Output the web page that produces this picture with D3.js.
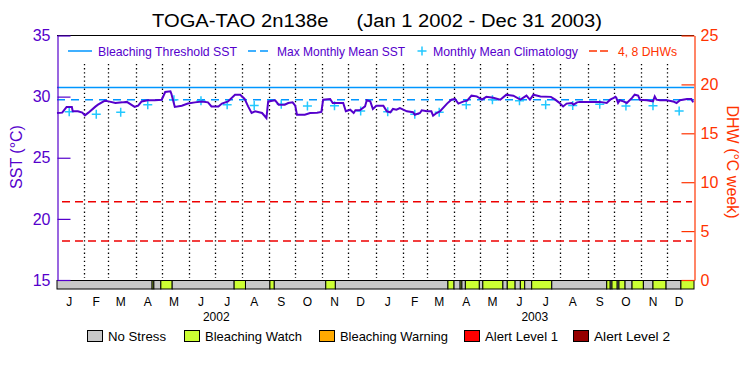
<!DOCTYPE html>
<html>
<head>
<meta charset="utf-8">
<script src="https://cdn.jsdelivr.net/npm/d3@7"></script>
<style>
  body { margin: 0; background: #fff; }
  text { font-family: "Liberation Sans", Arial, sans-serif; }
</style>
</head>
<body>
<svg id="chart" width="750" height="375"></svg>
<script>
// SST 与 DHW 双轴图：2002–2003 两年，底部为热胁迫等级条

const startDate = new Date(2002, 0, 1);
const endDate = new Date(2004, 0, 1);

// 日均 SST（距 2002-01-01 的天数，℃）
const sstDay = [
  0, 6, 11, 17, 18, 24, 29, 32, 36, 44, 47, 55, 59, 67, 75, 80, 89, 93, 97, 104,
  112, 120, 124, 130, 131, 135, 143, 150, 158, 166, 173, 177, 185, 189, 196, 204, 210, 215, 219, 223,
  227, 235, 240, 242, 250, 254, 261, 265, 270, 273, 275, 284, 290, 298, 303, 305, 313, 316, 328, 331,
  336, 340, 342, 347, 353, 355, 359, 362, 366, 374, 378, 382, 385, 389, 393, 401, 408, 410, 416, 418,
  424, 429, 431, 435, 439, 447, 452, 456, 460, 466, 470, 475, 481, 487, 492, 500, 508, 515, 523, 531,
  538, 542, 546, 554, 566, 571, 575, 580, 584, 590, 592, 596, 599, 622, 630, 634, 638, 640, 641, 643,
  645, 649, 653, 659, 662, 666, 668, 676, 683, 685, 687, 691, 699, 706, 710, 714, 722, 727, 729,
];
const sstValue = [
  28.66, 28.69, 29.16, 29.16, 28.80, 28.80, 28.69, 28.47, 28.69, 29.18, 29.34, 29.67, 29.61, 29.48, 29.53, 29.57, 29.16, 29.26, 29.61, 29.70,
  29.70, 29.75, 30.38, 30.43, 30.25, 29.16, 29.26, 29.43, 29.53, 29.61, 29.53, 29.20, 29.20, 29.43, 29.61, 30.16, 30.16, 29.81, 29.20, 28.66,
  28.80, 28.66, 28.25, 29.61, 29.70, 29.34, 29.34, 29.48, 29.53, 29.26, 28.52, 28.52, 28.66, 28.69, 28.75, 29.75, 29.81, 29.48, 29.48, 28.80,
  28.93, 28.66, 28.88, 28.88, 29.20, 29.70, 29.61, 28.99, 29.26, 29.26, 28.80, 28.72, 28.99, 28.93, 29.07, 28.80, 28.72, 28.52, 28.66, 28.88,
  28.80, 28.80, 28.44, 28.66, 28.80, 29.43, 29.75, 29.81, 29.43, 29.61, 29.67, 30.08, 30.02, 29.75, 29.98, 29.90, 29.75, 30.16, 30.08, 29.75,
  30.08, 29.75, 30.16, 30.02, 29.98, 29.75, 29.53, 29.20, 29.43, 29.48, 29.34, 29.53, 29.57, 29.57, 29.48, 29.75, 29.90, 29.98, 29.90, 29.48,
  29.70, 29.61, 29.48, 29.90, 30.16, 30.08, 29.75, 29.70, 29.61, 30.02, 29.75, 29.70, 29.70, 29.61, 29.48, 29.70, 29.81, 29.81, 29.53,
];

// 月平均气候态（1–12 月）
const climMonths = ['J', 'F', 'M', 'A', 'M', 'J', 'J', 'A', 'S', 'O', 'N', 'D'];
const climValue = [28.77, 28.56, 28.73, 29.34, 29.75, 29.67, 29.34, 29.28, 29.37, 29.24, 29.26, 28.83];

const mmm = 29.75;
const threshold = 30.75;
const dhwLines = [4, 8];

// 热胁迫等级条：起止天数与等级（0 无胁迫，1 白化观察）
const stressStart = [0, 109, 111, 119, 132, 203, 216, 244, 249, 308, 319, 448, 455, 462, 464, 468, 484, 488,
  511, 516, 525, 531, 536, 544, 567, 630, 634, 636, 642, 644, 651, 659, 672, 683, 698, 715];
const stressEnd = [109, 111, 119, 132, 203, 216, 244, 249, 308, 319, 448, 455, 462, 464, 468, 484, 488, 511,
  516, 525, 531, 536, 544, 567, 630, 634, 636, 642, 644, 651, 659, 672, 683, 698, 715, 730];
const stressLevel = [0, 1, 0, 1, 0, 1, 0, 1, 0, 1, 0, 1, 0, 1, 0, 1, 0, 1,
  0, 1, 0, 1, 0, 1, 0, 1, 0, 1, 0, 1, 0, 1, 0, 1, 0, 1];

const stressNames = ['No Stress', 'Bleaching Watch', 'Bleaching Warning', 'Alert Level 1', 'Alert Level 2'];
const stressColors = ['#c8c8c8', '#ccff33', '#ffaa00', '#ff0000', '#960000'];

const PURPLE = '#5500cc';
const ORANGE = '#ff3300';
const SKY = '#0096ff';
const CROSS = '#22c8ff';

const svg = d3.select('#chart');
const dayToDate = d => d3.timeDay.offset(startDate, d);

const x = d3.scaleTime().domain([startDate, endDate]).range([57, 694]);
const ySst = d3.scaleLinear().domain([15, 35]).range([280, 35.5]);
const yDhw = d3.scaleLinear().domain([0, 25]).range([280, 35.5]);

// 标题
svg.append('text')
  .attr('x', 152)
  .attr('y', 27)
  .attr('font-size', 18)
  .attr('textLength', 450)
  .attr('lengthAdjust', 'spacingAndGlyphs')
  .attr('fill', '#000')
  .attr('xml:space', 'preserve')
  .text('TOGA-TAO 2n138e     (Jan 1 2002 - Dec 31 2003)');

// 月份分隔虚线
const monthBounds = d3.timeMonth.range(d3.timeMonth.offset(startDate, 1), endDate);
svg.append('g')
  .selectAll('line')
  .data(monthBounds)
  .join('line')
  .attr('x1', d => Math.round(x(d)) + 0.5)
  .attr('x2', d => Math.round(x(d)) + 0.5)
  .attr('y1', 64)
  .attr('y2', 278)
  .attr('stroke', '#000')
  .attr('stroke-width', 1.3)
  .attr('stroke-dasharray', '1.3,2.8');

// 阈值与 MMM
svg.append('line')
  .attr('x1', x.range()[0]).attr('x2', x.range()[1])
  .attr('y1', ySst(threshold)).attr('y2', ySst(threshold))
  .attr('stroke', SKY).attr('stroke-width', 1.5);

svg.append('line')
  .attr('x1', x.range()[0]).attr('x2', x.range()[1])
  .attr('y1', ySst(mmm)).attr('y2', ySst(mmm))
  .attr('stroke', SKY).attr('stroke-width', 1.5)
  .attr('stroke-dasharray', '8,6');

// DHW 4、8 虚线
svg.append('g')
  .selectAll('line')
  .data(dhwLines)
  .join('line')
  .attr('x1', x.range()[0] + 5).attr('x2', x.range()[1] - 2)
  .attr('y1', d => yDhw(d)).attr('y2', d => yDhw(d))
  .attr('stroke', '#ee0000').attr('stroke-width', 1.5)
  .attr('stroke-dasharray', '8,5');

// 气候态十字
const climData = [];
[2002, 2003].forEach(year => {
  climValue.forEach((v, i) => climData.push({ date: new Date(year, i, 15), value: v }));
});
svg.append('g')
  .selectAll('path')
  .data(climData)
  .join('path')
  .attr('d', d => {
    const cx = x(d.date), cy = ySst(d.value);
    return `M${cx - 4.5},${cy}H${cx + 4.5}M${cx},${cy - 4.5}V${cy + 4.5}`;
  })
  .attr('stroke', CROSS)
  .attr('stroke-width', 1.5)
  .attr('fill', 'none');

// SST 曲线
const sstData = sstDay.map((d, i) => ({ date: dayToDate(d), value: sstValue[i] }));
svg.append('path')
  .datum(sstData)
  .attr('d', d3.line().x(d => x(d.date)).y(d => ySst(d.value)))
  .attr('fill', 'none')
  .attr('stroke', PURPLE)
  .attr('stroke-width', 2)
  .attr('stroke-linejoin', 'miter');

// 热胁迫等级条
svg.append('g')
  .selectAll('rect')
  .data(stressStart.map((s, i) => ({ s, e: stressEnd[i], level: stressLevel[i] })))
  .join('rect')
  .attr('x', d => x(dayToDate(d.s)))
  .attr('width', d => x(dayToDate(d.e)) - x(dayToDate(d.s)))
  .attr('y', 280.5)
  .attr('height', 8.5)
  .attr('fill', d => stressColors[d.level])
  .attr('stroke', '#000')
  .attr('stroke-width', 1);

// 顶部边框
svg.append('line')
  .attr('x1', 57).attr('x2', 694)
  .attr('y1', 35.5).attr('y2', 35.5)
  .attr('stroke', '#000').attr('stroke-width', 1.2);

// 左轴 SST
const leftAxis = svg.append('g').attr('transform', 'translate(57.5,0)');
leftAxis.call(
  d3.axisLeft(ySst).tickValues(d3.range(15, 36, 1)).tickSizeInner(-6).tickSizeOuter(0).tickFormat('')
);
leftAxis.call(
  d3.axisLeft(ySst).tickValues([15, 20, 25, 30, 35]).tickSizeInner(-13).tickSizeOuter(0).tickPadding(7)
);
leftAxis.selectAll('line, path').attr('stroke', PURPLE).attr('stroke-width', 1.2);
leftAxis.selectAll('text')
  .attr('fill', PURPLE)
  .attr('font-size', 16)
  .attr('font-family', '"Liberation Sans", Arial, sans-serif');

svg.append('text')
  .attr('transform', 'translate(22,157) rotate(-90)')
  .attr('text-anchor', 'middle')
  .attr('font-size', 16)
  .attr('fill', PURPLE)
  .text('SST (°C)');

// 右轴 DHW
const rightAxis = svg.append('g').attr('transform', 'translate(694.5,0)');
rightAxis.call(
  d3.axisRight(yDhw).tickValues(d3.range(0, 26, 1)).tickSizeInner(-6).tickSizeOuter(0).tickFormat('')
);
rightAxis.call(
  d3.axisRight(yDhw).tickValues([0, 5, 10, 15, 20, 25]).tickSizeInner(-13).tickSizeOuter(0).tickPadding(6)
);
rightAxis.selectAll('line, path').attr('stroke', ORANGE).attr('stroke-width', 1.2);
rightAxis.selectAll('text')
  .attr('fill', ORANGE)
  .attr('font-size', 16)
  .attr('font-family', '"Liberation Sans", Arial, sans-serif');

svg.append('text')
  .attr('transform', 'translate(727,162) rotate(90)')
  .attr('text-anchor', 'middle')
  .attr('font-size', 16)
  .attr('fill', ORANGE)
  .text('DHW (°C week)');

// 月份与年份标签
const monthMids = d3.timeMonth.range(startDate, endDate).map(d => new Date(d.getFullYear(), d.getMonth(), 15));
svg.append('g')
  .selectAll('text')
  .data(monthMids)
  .join('text')
  .attr('x', d => x(d))
  .attr('y', 306)
  .attr('text-anchor', 'middle')
  .attr('font-size', 12)
  .attr('fill', '#000')
  .text(d => climMonths[d.getMonth()]);

svg.append('g')
  .selectAll('text')
  .data([2002, 2003])
  .join('text')
  .attr('x', d => (x(new Date(d, 0, 1)) + x(new Date(d + 1, 0, 1))) / 2)
  .attr('y', 321)
  .attr('text-anchor', 'middle')
  .attr('font-size', 12)
  .attr('fill', '#000')
  .text(d => d);

// 顶部图例
const legendY = 51;
const topLegend = svg.append('g');
topLegend.append('line')
  .attr('x1', 68).attr('x2', 92).attr('y1', legendY).attr('y2', legendY)
  .attr('stroke', SKY).attr('stroke-width', 1.5);
topLegend.append('line')
  .attr('x1', 248).attr('x2', 268).attr('y1', legendY).attr('y2', legendY)
  .attr('stroke', SKY).attr('stroke-width', 1.5).attr('stroke-dasharray', '8,4');
topLegend.append('path')
  .attr('d', `M417.5,${legendY}H426.5M422,${legendY - 4.5}V${legendY + 4.5}`)
  .attr('stroke', CROSS).attr('stroke-width', 1.5);
topLegend.append('line')
  .attr('x1', 589).attr('x2', 608).attr('y1', legendY).attr('y2', legendY)
  .attr('stroke', ORANGE).attr('stroke-width', 1.5).attr('stroke-dasharray', '8,3');

const topItems = [
  { text: 'Bleaching Threshold SST', x: 98, w: 139, color: PURPLE },
  { text: 'Max Monthly Mean SST', x: 277, w: 128, color: PURPLE },
  { text: 'Monthly Mean Climatology', x: 433, w: 145, color: PURPLE },
  { text: '4, 8 DHWs', x: 618, w: 59, color: ORANGE },
];
topLegend.selectAll('text')
  .data(topItems)
  .join('text')
  .attr('x', d => d.x)
  .attr('y', legendY + 5)
  .attr('font-size', 13)
  .attr('textLength', d => d.w)
  .attr('lengthAdjust', 'spacingAndGlyphs')
  .attr('fill', d => d.color)
  .text(d => d.text);

// 底部等级图例
const boxX = [87, 184, 319, 464, 573];
const textW = [58, 97, 108, 73, 76];
const bottomLegend = svg.append('g')
  .selectAll('g')
  .data(stressNames)
  .join('g')
  .attr('transform', (d, i) => `translate(${boxX[i]},330)`);
bottomLegend.append('rect')
  .attr('x', 0.5).attr('y', 0.5)
  .attr('width', 15).attr('height', 11)
  .attr('fill', (d, i) => stressColors[i])
  .attr('stroke', '#000').attr('stroke-width', 1);
bottomLegend.append('text')
  .attr('x', 21)
  .attr('y', 11)
  .attr('font-size', 13)
  .attr('textLength', (d, i) => textW[i])
  .attr('lengthAdjust', 'spacingAndGlyphs')
  .attr('fill', '#000')
  .text(d => d);
</script>
</body>
</html>
